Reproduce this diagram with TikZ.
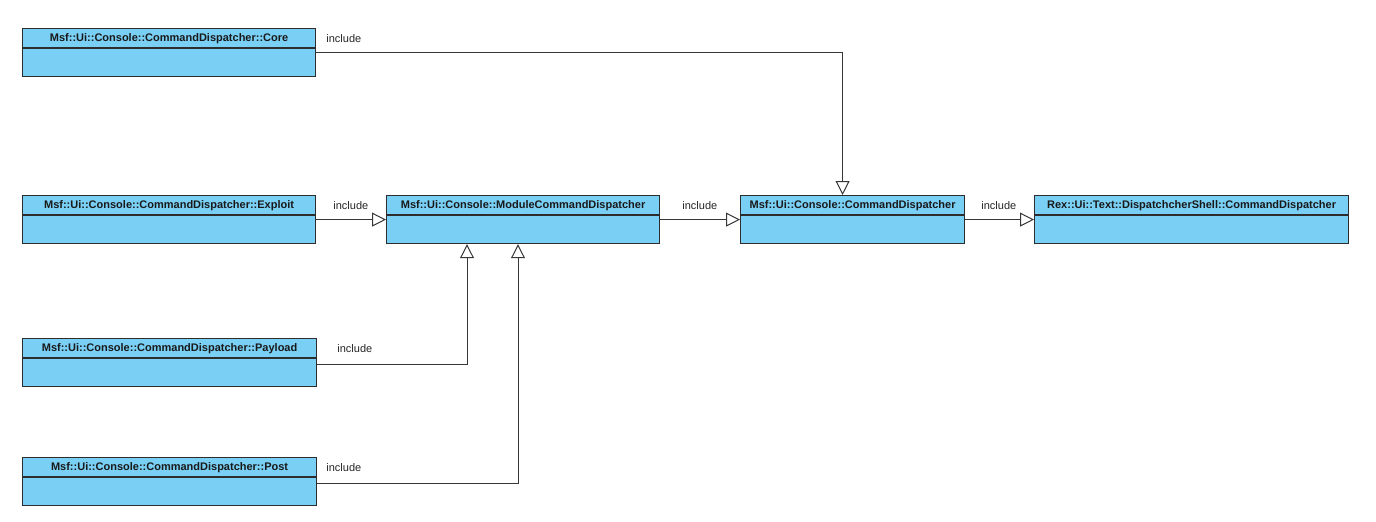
\documentclass[tikz,border=0pt]{standalone}
\usepackage{fontspec}
\setmainfont{Liberation Sans}
\usetikzlibrary{arrows.meta,calc}
\definecolor{clsfill}{RGB}{122,207,245}
\definecolor{clsline}{RGB}{45,45,45}
\definecolor{conline}{RGB}{55,55,55}
\tikzset{
  cls/.style={draw=clsline, line width=1.2pt, fill=clsfill, rectangle, inner sep=0pt, anchor=north west, minimum height=48pt},
  clstitle/.style={font=\bfseries\fontsize{11}{13}\selectfont, text=black!90, inner sep=0pt},
  lbl/.style={font=\fontsize{11}{13}\selectfont, text=black!85, inner sep=0pt, anchor=west},
  inc/.style={draw=conline, line width=1pt, -{Triangle[open, length=14pt, width=14pt, line width=1pt]}},
}
\newcommand{\umlcls}[5]{%
  \node[cls, minimum width=#4pt] (#1) at (#2,#3) {};
  \node[clstitle] (#1t) at ($(#1.north)+(0,11)$) {#5};
  \draw[clsline, line width=1.1pt] ($(#1.north west)+(0,20)$) -- ($(#1.north east)+(0,20)$);
}
\begin{document}
\begin{tikzpicture}[x=1pt,y=-1pt]
\useasboundingbox (0,0) rectangle (1376,522);
\umlcls{core}{22}{28}{293}{Msf::Ui::Console::CommandDispatcher::Core}
\umlcls{exploit}{22}{195}{293}{Msf::Ui::Console::CommandDispatcher::Exploit}
\umlcls{payload}{22}{338}{294}{Msf::Ui::Console::CommandDispatcher::Payload}
\umlcls{post}{22}{457}{294}{Msf::Ui::Console::CommandDispatcher::Post}
\umlcls{module}{386}{195}{273}{Msf::Ui::Console::ModuleCommandDispatcher}
\umlcls{cd}{740}{195}{224}{Msf::Ui::Console::CommandDispatcher}
\umlcls{rex}{1034}{195}{314}{Rex::Ui::Text::DispatchcherShell::CommandDispatcher}

\coordinate (cdin) at ($(cd.north)+(-10,0)$);
\coordinate (modinA) at ($(module.south west)+(81,0)$);
\coordinate (modinB) at ($(module.south west)+(132,0)$);

\draw[inc] (core.east) -| (cdin);
\draw[inc] (exploit.east) -- (module.west);
\draw[inc] (module.east) -- (cd.west);
\draw[inc] (cd.east) -- (rex.west);
\draw[inc] ($(payload.east)+(0,2)$) -| (modinA);
\draw[inc] ($(post.east)+(0,2)$) -| (modinB);

\node[lbl] (l1) at ($(core.east)+(10,-14)$) {include};
\node[lbl] (l2) at ($(exploit.east)+(17,-14)$) {include};
\node[lbl] (l3) at ($(module.east)+(22,-14)$) {include};
\node[lbl] (l4) at ($(cd.east)+(16,-14)$) {include};
\node[lbl] (l5) at ($(payload.east)+(20,-14)$) {include};
\node[lbl] (l6) at ($(post.east)+(9,-14)$) {include};
\end{tikzpicture}
\end{document}
